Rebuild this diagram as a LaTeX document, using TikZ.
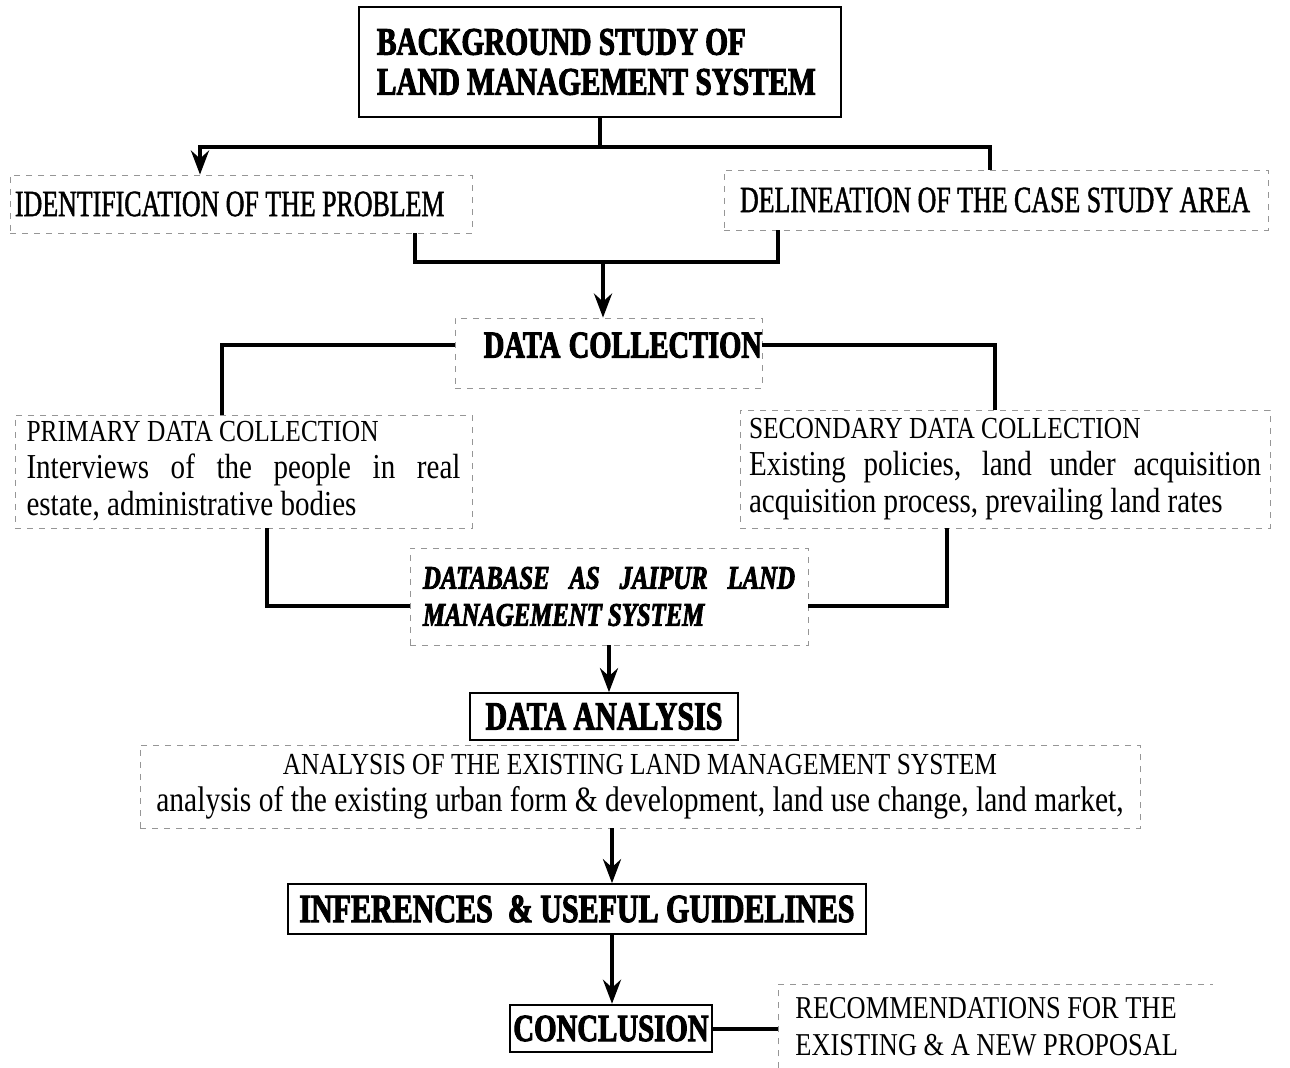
\documentclass[tikz,border=0pt]{standalone}
\usepackage{fontspec}
\usepackage{tikz}
\definecolor{fb}{RGB}{150, 150, 150}
\usetikzlibrary{arrows.meta}
\newfontfamily\hvyfont{Liberation Serif}[FakeStretch=0.75,BoldFeatures={FakeBold=2.5},BoldItalicFeatures={FakeBold=2.5}]
\newfontfamily\hdfont{Liberation Serif}[FakeStretch=0.70,FakeBold=1.2]
\newfontfamily\bdfont{Liberation Serif}[FakeStretch=0.83]

\begin{document}
\begin{tikzpicture}[x=1pt, y=1pt,
execute at begin node={\spaceskip=0pt\relax\xspaceskip=0pt\relax},
solidbox/.style={draw=black, line width=0.8pt, inner sep=0pt},
faintbox/.style={draw=fb, dashed, line width=0.4pt},
conn/.style={line width=2pt, color=black},
arr/.style={line width=2pt, color=black, -{Stealth[length=12pt, width=9pt, inset=4pt]}}]
\useasboundingbox (0pt, 0pt) rectangle (645pt, -534pt);
\node (1) [solidbox, text width=223pt, align=left, inner xsep=9pt, minimum height=55pt, font=\hvyfont\bfseries\fontsize{19.5}{20}\selectfont] at (300pt, -31pt) {BACKGROUND STUDY OF\\LAND MANAGEMENT SYSTEM};
\node (2) [faintbox, text width=226pt, align=left, inner xsep=2.5pt, minimum height=29pt, font=\hdfont\fontsize{18.5}{20}\selectfont] at (120.5pt, -102pt) {IDENTIFICATION OF THE PROBLEM};
\node (3) [faintbox, text width=262pt, align=left, inner xsep=5pt, minimum height=30pt, font=\hdfont\fontsize{18.5}{20}\selectfont] at (498pt, -100pt) {\hspace{3pt}DELINEATION OF THE CASE STUDY AREA};
\node (4) [faintbox, text width=153.5pt, align=right, inner xsep=0pt, text depth=8pt, minimum height=35pt, font=\hvyfont\bfseries\fontsize{19}{20}\selectfont] at (304.25pt, -176.5pt) {DATA COLLECTION};
\node (5) [faintbox, text width=217pt, align=justify, inner xsep=5.75pt, minimum height=56.5pt, font=\bdfont\fontsize{17.5}{18.5}\selectfont] at (121.75pt, -235.75pt) {{\fontsize{15.3}{18.5}\selectfont PRIMARY DATA COLLECTION}\\Interviews of the people in real\linebreak estate, administrative bodies};
\node (6) [faintbox, text width=256pt, align=justify, inner xsep=4.5pt, minimum height=59pt, font=\bdfont\fontsize{17.5}{18.5}\selectfont] at (502.5pt, -234.5pt) {{\fontsize{15.3}{18.5}\selectfont SECONDARY DATA COLLECTION}\\Existing policies, land under acquisition\linebreak acquisition process, prevailing land rates};
\node (7) [faintbox, text width=186pt, align=justify, inner xsep=6.5pt, minimum height=48.5pt, font=\hvyfont\bfseries\itshape\fontsize{16.5}{18.5}\selectfont] at (304.5pt, -298.25pt) {DATABASE AS JAIPUR LAND\linebreak MANAGEMENT SYSTEM};
\node (8) [solidbox, minimum width=134pt, minimum height=23.5pt, font=\hvyfont\bfseries\fontsize{20}{20}\selectfont] at (302pt, -358.25pt) {DATA ANALYSIS};
\node (9) [faintbox, minimum width=500pt, minimum height=41.5pt, align=center, font=\bdfont\fontsize{17.8}{18.5}\selectfont] at (320pt, -393.25pt) {{\fontsize{15.3}{18.5}\selectfont ANALYSIS OF THE EXISTING LAND MANAGEMENT SYSTEM}\\analysis of the existing urban form \& development, land use change, land market,};
\node (10) [solidbox, minimum width=289pt, minimum height=25pt, font=\hvyfont\bfseries\fontsize{20}{20}\selectfont] at (288.5pt, -454.5pt) {INFERENCES\ \ \& USEFUL GUIDELINES};
\node (11) [solidbox, line width=1.2pt, minimum width=101pt, minimum height=23.5pt, font=\hvyfont\bfseries\fontsize{19.2}{20}\selectfont] at (305.5pt, -514.25pt) {CONCLUSION};
\node (12) [anchor=west, text width=200pt, align=left, inner xsep=8.5pt, minimum height=41.5pt, font=\bdfont\fontsize{15.9}{18.5}\selectfont] at (389pt, -513.25pt) {RECOMMENDATIONS FOR THE\\EXISTING \& A NEW PROPOSAL};
\draw [faintbox] (12.south west) -- (12.north west) -- (12.north east);
% turning points of the connectors
\coordinate (c1) at (100pt, -73.5pt);
\coordinate (c2) at (495pt, -73.5pt);
\coordinate (c3) at (207.5pt, -131pt);
\coordinate (c4) at (389pt, -131pt);
\coordinate (c5) at (301.5pt, -131pt);
\coordinate (c7) at (111pt, -172.5pt);
\coordinate (c8) at (497.5pt, -172.5pt);
\coordinate (c9) at (133.5pt, -303pt);
\coordinate (c10) at (473.5pt, -303pt);
\coordinate (c11) at (306pt, -414pt);
\draw [conn] (1.south) to (1.south |- c1);
\draw [arr, {Stealth[length=12pt, width=9pt, inset=4pt]}-] (c1 |- 2.north) -- (c1) -- (c2) -- (c2 |- 3.north);
\draw [conn] (c3 |- 2.south) -- (c3) -- (c4) -- (c4 |- 3.south);
\draw [arr] (c5) to (c5 |- 4.north);
\draw [conn] (4.west |- c7) -- (c7) -- (c7 |- 5.north);
\draw [conn] (4.east |- c8) -- (c8) -- (c8 |- 6.north);
\draw [conn] (c9 |- 5.south) -- (c9) -- (c9 -| 7.west);
\draw [conn] (c10 |- 6.south) -- (c10) -- (c10 -| 7.east);
\draw [arr] (7.south) to (7.south |- 8.north);
\draw [arr] (c11 |- 9.south) to (c11 |- 10.north);
\draw [arr] (c11 |- 10.south) to (c11 |- 11.north);
\draw [conn] (11.east) to (11.east -| 12.west);
\end{tikzpicture}
\end{document}
